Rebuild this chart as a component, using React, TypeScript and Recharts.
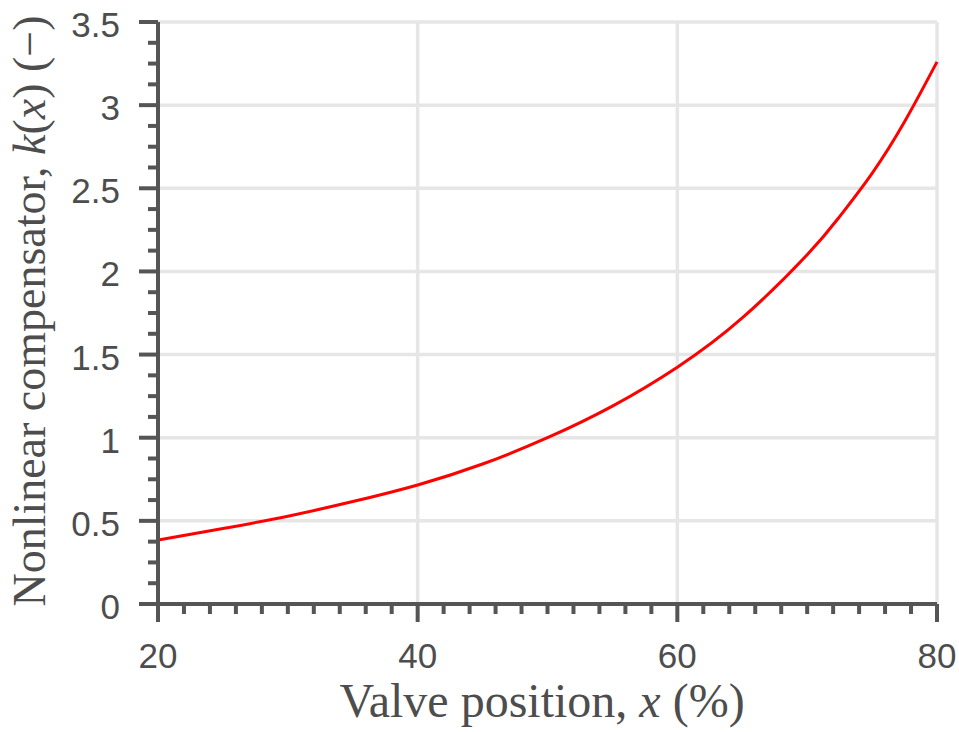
import { LineChart, Line, XAxis, YAxis, CartesianGrid } from 'recharts'

// valve position (%) vs nonlinear compensator k(x)
const positions = [20, 25, 30, 35, 40, 45, 50, 55, 60, 65, 70, 72.5, 75, 77.5, 80]
const kValues = [0.384, 0.454, 0.528, 0.616, 0.716, 0.842, 1.0, 1.19, 1.424, 1.72, 2.1, 2.33, 2.59, 2.9, 3.26]

const xTicks = [20, 22, 24, 26, 28, 30, 32, 34, 36, 38, 40, 42, 44, 46, 48, 50, 52, 54, 56, 58, 60, 62, 64, 66, 68, 70, 72, 74, 76, 78, 80]
const xMajor = [20, 40, 60, 80]
const yTicks = [
  0, 0.125, 0.25, 0.375, 0.5, 0.625, 0.75, 0.875, 1, 1.125, 1.25, 1.375, 1.5, 1.625, 1.75, 1.875,
  2, 2.125, 2.25, 2.375, 2.5, 2.625, 2.75, 2.875, 3, 3.125, 3.25, 3.375, 3.5,
]
const yMajor = [0, 0.5, 1, 1.5, 2, 2.5, 3, 3.5]

const data = positions.map((x, i) => ({ x, k: kValues[i] }))

const AXIS = '#555555'
const TEXT = '#4d4d4d'
const GRID = '#e6e6e6'
const SANS = '"Liberation Sans", Arial, Helvetica, sans-serif'
const SERIF = '"Liberation Serif", "DejaVu Serif", serif'

const XTick = (props: any) => {
  const { x, y, payload } = props
  const major = xMajor.includes(payload.value)
  return (
    <g>
      <line x1={x} x2={x} y1={y} y2={y + (major ? 18 : 10)} stroke={AXIS} strokeWidth={4} />
      {major && (
        <text x={x} y={y + 64} textAnchor="middle" fontSize={35} fill={TEXT} fontFamily={SANS}>
          {payload.value}
        </text>
      )}
    </g>
  )
}

const YTick = (props: any) => {
  const { x, y, payload } = props
  const major = yMajor.includes(payload.value)
  return (
    <g>
      <line x1={x} x2={x - (major ? 19 : 10)} y1={y} y2={y} stroke={AXIS} strokeWidth={4} />
      {major && (
        <text x={x - 38} y={y + 15} textAnchor="end" fontSize={35} fill={TEXT} fontFamily={SANS}>
          {payload.value}
        </text>
      )}
    </g>
  )
}

const XTitle = () => (
  <text x={542} y={717} textAnchor="middle" fontSize={48} fill={TEXT} fontFamily={SERIF}>
    Valve position, <tspan fontStyle="italic">x</tspan> (%)
  </text>
)

const YTitle = () => (
  <text
    x={0}
    y={0}
    transform="translate(45 311) rotate(-90)"
    textAnchor="middle"
    fontSize={46}
    fill={TEXT}
    fontFamily={SERIF}
  >
    Nonlinear compensator, <tspan fontStyle="italic">k</tspan>(<tspan fontStyle="italic">x</tspan>) (−)
  </text>
)

export default function App() {
  return (
    <div style={{ position: 'absolute', left: 0, top: 0, background: '#fff' }}>
      <LineChart width={959} height={732} data={data} margin={{ top: 22, right: 22, bottom: 0, left: 0 }}>
        <CartesianGrid
          stroke={GRID}
          strokeWidth={3.5}
          horizontalValues={yMajor}
          verticalValues={xMajor}
        />
        <XAxis
          dataKey="x"
          type="number"
          domain={[20, 80]}
          ticks={xTicks}
          interval={0}
          height={128}
          tickLine={false}
          tickSize={0}
          tickMargin={0}
          axisLine={{ stroke: AXIS, strokeWidth: 4 }}
          tick={XTick}
          label={{ content: XTitle }}
        />
        <YAxis
          type="number"
          domain={[0, 3.5]}
          ticks={yTicks}
          interval={0}
          width={158}
          tickLine={false}
          tickSize={0}
          tickMargin={0}
          axisLine={{ stroke: AXIS, strokeWidth: 4 }}
          tick={YTick}
          label={{ content: YTitle }}
        />
        <Line
          type="natural"
          dataKey="k"
          stroke="#ff0000"
          strokeWidth={3}
          dot={false}
          isAnimationActive={false}
        />
      </LineChart>
    </div>
  )
}
